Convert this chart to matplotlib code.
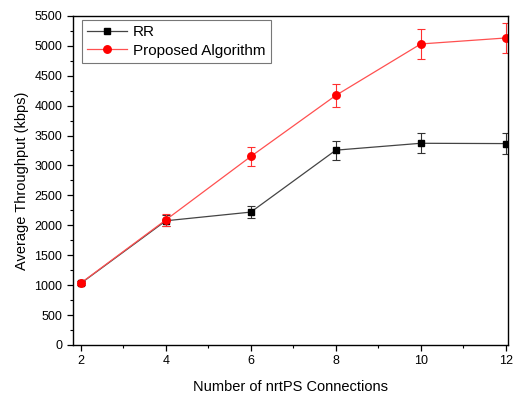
import matplotlib
matplotlib.use("Agg")
import matplotlib.pyplot as plt
from matplotlib.ticker import MultipleLocator
from matplotlib.lines import Line2D

plt.rcParams['font.family'] = ['Liberation Sans', 'DejaVu Sans']

x = [2, 4, 6, 8, 10, 12]
rr = [1030, 2075, 2220, 3255, 3370, 3365]
rr_err = [30, 90, 105, 160, 170, 170]
prop = [1035, 2090, 3150, 4170, 5030, 5130]
prop_err = [30, 100, 155, 195, 250, 255]

fig = plt.figure(figsize=(5.13, 3.96), dpi=100)
ax = fig.add_axes([0.142, 0.129, 0.848, 0.831])

ax.errorbar(x, rr, yerr=rr_err, color='#444444', lw=0.9, marker='s', ms=4.6,
            mfc='black', mec='black', ecolor='#333333', elinewidth=0.8,
            capsize=3, capthick=0.8)
ax.errorbar(x, prop, yerr=prop_err, color='#ff5050', lw=0.9, marker='o', ms=5.4,
            mfc='red', mec='red', ecolor='#ff3030', elinewidth=0.8,
            capsize=3, capthick=0.8)

h1 = Line2D([], [], color='#444444', lw=0.9, marker='s', ms=4.6, mfc='black', mec='black')
h2 = Line2D([], [], color='#ff5050', lw=0.9, marker='o', ms=5.4, mfc='red', mec='red')

ax.set_xlim(1.81, 12.05)
ax.set_ylim(0, 5500)
ax.xaxis.set_major_locator(MultipleLocator(2))
ax.xaxis.set_minor_locator(MultipleLocator(1))
ax.yaxis.set_major_locator(MultipleLocator(500))
ax.yaxis.set_minor_locator(MultipleLocator(250))
ax.tick_params(which='major', direction='out', length=4, width=0.9, labelsize=9)
ax.tick_params(which='minor', direction='out', length=2.5, width=0.8)
for s in ax.spines.values():
    s.set_linewidth(1.0)

ax.set_xlabel('Number of nrtPS Connections', fontsize=10.5, labelpad=9)
ax.set_ylabel('Average Throughput (kbps)', fontsize=10.5, labelpad=4)

leg = ax.legend([h1, h2], ['RR', 'Proposed Algorithm'], loc='upper left', fontsize=11,
                frameon=True, fancybox=False, edgecolor='#555555', borderpad=0.35,
                handlelength=2.6, handletextpad=0.4, labelspacing=0.3,
                borderaxespad=0, bbox_to_anchor=(0.02, 0.988))
leg.get_frame().set_linewidth(0.8)

fig.savefig('out.png', dpi=100)
